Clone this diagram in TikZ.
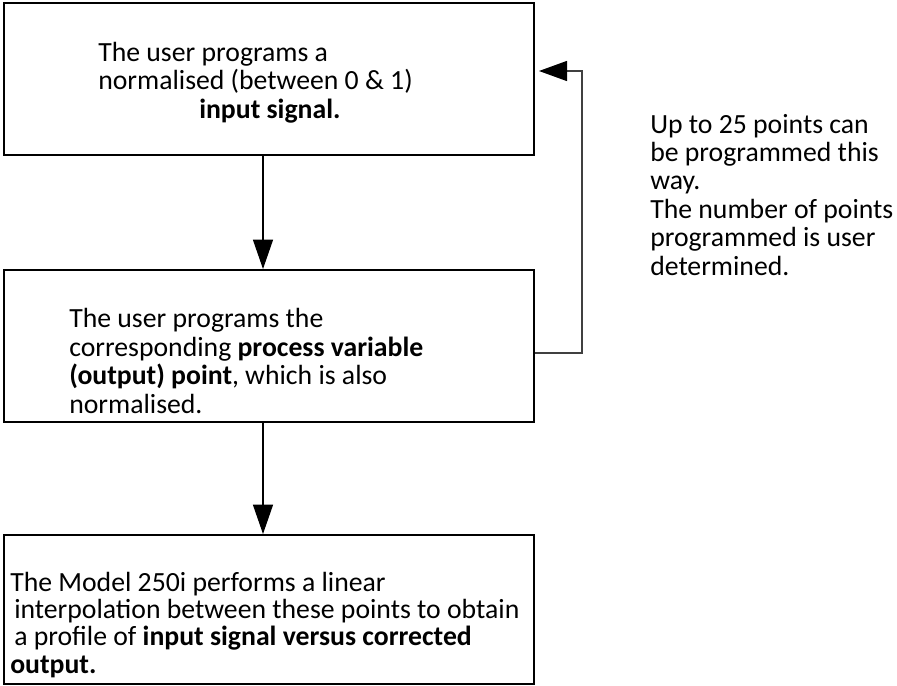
\documentclass[tikz,border=0pt]{standalone}
\usepackage{fontspec}
\setmainfont{Carlito}
\usetikzlibrary{arrows.meta}

\begin{document}
\begin{tikzpicture}[x=0.75pt,y=0.75pt,yscale=-1,xscale=1,
    flowbox/.style={draw,line width=1.5pt,minimum width=397.5pt,minimum height=114pt,inner sep=0pt},
    flowtxt/.style={anchor=base west,inner sep=0pt,align=left,font=\fontsize{20.8pt}{21.3pt}\selectfont},
    flowarr/.style={line width=0.9pt,-{Triangle[length=22pt,width=15pt]}},
    loopline/.style={line width=1pt,draw=black!75,-{Triangle[length=21pt,width=15pt,color=black]},shorten >=3pt}]
    \useasboundingbox (0,0) rectangle (897,686);
    % Boxes
    \node [flowbox] (box1) at (269,79) {};
    \node [flowbox] (box2) at (269,346) {};
    \node [flowbox,minimum height=111.75pt] (box3) at (269,609.5) {};
    % Text Node (base = last line)
    \draw (98,118) node [flowtxt] (txt1) {The user programs a\\ normalised (between 0 \& 1)\\ \hspace*{75.75pt}\textbf{input signal.}};
    % Text Node
    \draw (69,413) node [flowtxt] (txt2) {The user programs the\\ corresponding \textbf{process variable}\\ \textbf{(output) point}, which is also\\ normalised.};
    % Text Node
    \draw (10,673) node [flowtxt,font=\fontsize{20.8pt}{20.5pt}\selectfont] (txt3) {The Model 250i performs a linear\\ \hspace*{3pt}interpolation between these points to obtain\\ \hspace*{3pt}a profile of \textbf{input signal versus corrected}\\ \textbf{output.}};
    % Text Node
    \draw (650,275) node [flowtxt] (note) {Up to 25 points can\\ be programmed this\\ way.\\ The number of points\\ programmed is user\\ determined.};
    % Arrows
    \draw [flowarr] ([xshift=-4.5pt]box1.south) -- ([xshift=-4.5pt]box2.north);
    \draw [flowarr] ([xshift=-4.5pt]box2.south) -- ([xshift=-4.5pt]box3.north);
    \coordinate (fbB) at (582,353);
    \coordinate (fbT) at (582,71);
    \draw [loopline] (box2.east |- fbB) -- (fbB) -- (fbT) -- (box1.east |- fbT);
\end{tikzpicture}
\end{document}
